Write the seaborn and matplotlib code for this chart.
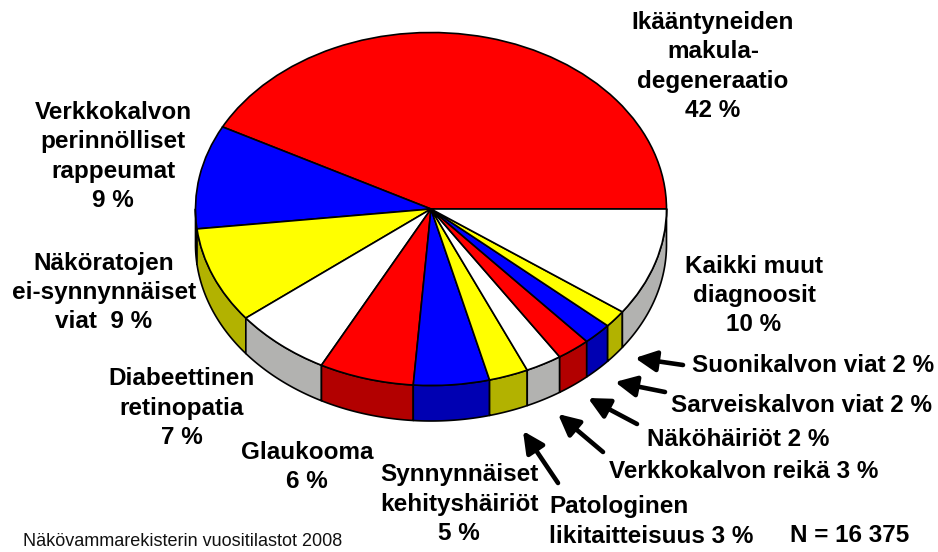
import numpy as np
import matplotlib
matplotlib.use("Agg")
import matplotlib.pyplot as plt
import seaborn as sns

diagnoses = ["Ikääntyneiden makuladegeneraatio", "Verkkokalvon perinnölliset rappeumat",
             "Näköratojen ei-synnynnäiset viat", "Diabeettinen retinopatia", "Glaukooma",
             "Synnynnäiset kehityshäiriöt", "Patologinen likitaitteisuus", "Verkkokalvon reikä",
             "Näköhäiriöt", "Sarveiskalvon viat", "Suonikalvon viat", "Kaikki muut diagnoosit"]
shares = [42.3, 9.5, 8.8, 6.7, 6.5, 5.2, 2.7, 2.5, 2.3, 2.0, 1.6, 9.9]
top_colors = ["#FF0000", "#0000FF", "#FFFF00", "#FFFFFF"] * 3
side_colors = ["#B20000", "#0000B2", "#B2B200", "#B2B2B0"] * 3

centered_labels = [
    ("Ikääntyneiden\nmakula-\ndegeneraatio\n42 %", 713, 66.5),
    ("Verkkokalvon\nperinnölliset\nrappeumat\n9 %", 113, 156.5),
    ("Näköratojen\nei-synnynnäiset\nviat  9 %", 104, 292.5),
    ("Diabeettinen\nretinopatia\n7 %", 182, 408),
    ("Glaukooma\n6 %", 307, 467),
    ("Synnynnäiset\nkehityshäiriöt\n5 %", 459, 504),
    ("Kaikki muut\ndiagnoosit\n10 %", 754, 295.5),
]
left_labels = [
    ("Suonikalvon viat 2 %", 692, 366),
    ("Sarveiskalvon viat 2 %", 671, 405.5),
    ("Näköhäiriöt 2 %", 647, 439),
    ("Verkkokalvon reikä 3 %", 609, 471.5),
    ("Patologinen\nlikitaitteisuus 3 %", 549, 521.5),
    ("N = 16 375", 790, 536),
]
arrows = [
    ((683, 365), (635, 358)),
    ((665, 392), (615, 382)),
    ((637, 424), (588, 398)),
    ((603, 452), (558, 414)),
    ((558, 483), (523, 431)),
]
source = "Näkövammarekisterin vuositilastot 2008"

W, H = 938, 552
CX, CY, RX, RY, DEPTH = 431, 209, 235.5, 176.5, 35.5

sns.set_theme(style="white")
plt.rcParams["font.family"] = ["Liberation Sans", "DejaVu Sans"]

fig = plt.figure(figsize=(W / 100, H / 100), dpi=100, facecolor="white")
ax = fig.add_axes([0, 0, 1, 1])
ax.set_facecolor("white")

# Side wall of the flattened pie, derived from the shares
depth = DEPTH / RY
edges = np.concatenate([[0], np.cumsum(shares)]) / np.sum(shares) * 360
for start, end, col in zip(edges[:-1], edges[1:], side_colors):
    lo, hi = max(start, 180), min(end, 360)
    if hi <= lo:
        continue
    t = np.radians(np.linspace(lo, hi, 120))
    xs = np.cos(t)
    ys = np.sin(t)
    ax.fill(np.r_[xs, xs[::-1]], np.r_[ys, ys[::-1] - depth], facecolor=col,
            edgecolor="black", linewidth=1.2, joinstyle="round", zorder=1)

wedges, _ = ax.pie(shares, colors=top_colors, startangle=0, counterclock=True, radius=1,
                   wedgeprops={"edgecolor": "black", "linewidth": 1.2})
for w in wedges:
    w.set_zorder(2)
ax.set_aspect("auto")
ax.set_xlim((0 - CX) / RX, (W - CX) / RX)
ax.set_ylim((CY - H) / RY, (CY - 0) / RY)
ax.axis("off")

# Overlay in pixel units for labels and arrows
ov = fig.add_axes([0, 0, 1, 1])
ov.set_xlim(0, W)
ov.set_ylim(H, 0)
ov.axis("off")
ov.patch.set_alpha(0)

FS = 17.5
LS = 1.36
for txt, x, y in centered_labels:
    ov.text(x, y, txt, ha="center", va="center", fontsize=FS, fontweight="bold",
            color="black", linespacing=LS, multialignment="center")
for txt, x, y in left_labels:
    ov.text(x, y, txt, ha="left", va="center", fontsize=FS, fontweight="bold",
            color="black", linespacing=LS, multialignment="left")
ov.text(23, 541, source, ha="left", va="center", fontsize=13, color="#111111")

for tail, tip in arrows:
    ov.annotate("", xy=tip, xytext=tail,
                arrowprops=dict(arrowstyle="-|>,head_length=0.85,head_width=0.42",
                                lw=3.3, color="black", shrinkA=0, shrinkB=0,
                                mutation_scale=15))

fig.savefig("out.png", dpi=100, facecolor="white")
